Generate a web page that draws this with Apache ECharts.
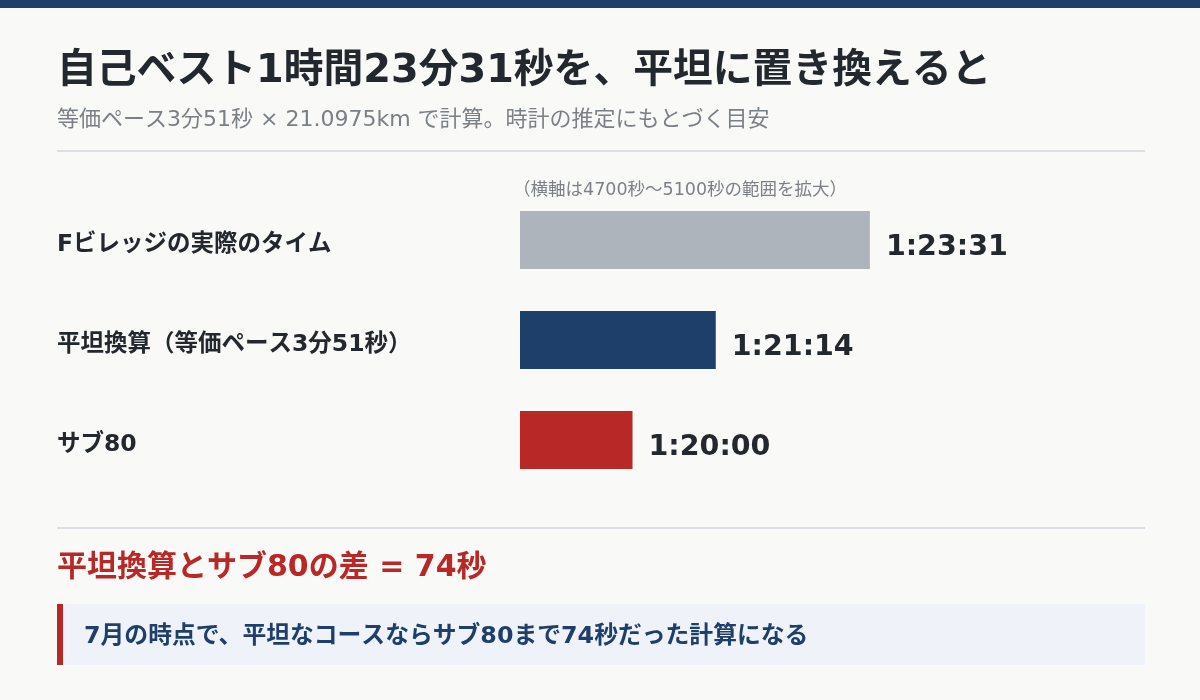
<!DOCTYPE html>
<html>
<head>
<meta charset="utf-8">
<script src="https://cdn.jsdelivr.net/npm/echarts@6/dist/echarts.min.js"></script>
<style>
html, body { margin: 0; padding: 0; background: #f9f9f7; }
#chart { width: 1200px; height: 700px; }
</style>
</head>
<body>
<div id="chart"></div>
<script>
var categories = ['Fビレッジの実際のタイム', '平坦換算（等価ペース3分51秒）', 'サブ80'];
var seconds = [5011, 4874, 4800];
var timeLabels = ['1:23:31', '1:21:14', '1:20:00'];
var barColors = ['#aeb4bc', '#1f3f6b', '#b72826'];
var axisMin = 4700;
var axisMax = 5100;

// latin glyphs from DejaVu (wide like the original), japanese from Noto CJK
var font = '"DejaVu Sans", "Noto Sans CJK JP", sans-serif';
var myChart = echarts.init(document.getElementById('chart'));

var barData = [];
for (var i = 0; i < seconds.length; i++) {
	barData.push({
		value: seconds[i],
		itemStyle: { color: barColors[i] },
		label: { formatter: timeLabels[i] }
	});
}

var option = {
	backgroundColor: '#f9f9f7',
	animation: false,
	grid: {
		left: 520,
		width: 450,
		top: 190,
		height: 300
	},
	xAxis: {
		type: 'value',
		min: axisMin,
		max: axisMax,
		show: false
	},
	yAxis: {
		type: 'category',
		inverse: true,
		data: categories,
		axisLine: { show: false },
		axisTick: { show: false },
		axisLabel: {
			align: 'left',
			margin: 463,
			formatter: function(v) {
				return '{c|' + v + '}';
			},
			rich: {
				c: {
					padding: [10, 0, 0, 0],
					color: '#23272e',
					fontSize: 23.5,
					fontWeight: 'bold',
					fontFamily: font
				}
			}
		}
	},
	series: [{
		type: 'bar',
		barWidth: 58,
		data: barData,
		label: {
			show: true,
			position: 'right',
			distance: 16,
			offset: [0, 8],
			color: '#23272e',
			fontSize: 28.5,
			fontWeight: 'bold',
			fontFamily: font
		}
	}],
	graphic: [
		{ type: 'rect', shape: { x: 0, y: 0, width: 1200, height: 8 }, style: { fill: '#1f3f6b' } },
		{
			type: 'text', x: 57, y: 72,
			style: {
				text: '自己ベスト1時間23分31秒を、平坦に置き換えると',
				fill: '#23272e', font: 'bold 39.8px ' + font, verticalAlign: 'middle'
			}
		},
		{
			type: 'text', x: 57, y: 120,
			style: {
				text: '等価ペース3分51秒 × 21.0975km で計算。時計の推定にもとづく目安',
				fill: '#7b7f86', font: '22px ' + font, verticalAlign: 'middle'
			}
		},
		{ type: 'rect', shape: { x: 57, y: 150, width: 1088, height: 2 }, style: { fill: '#dcdfe3' } },
		{
			type: 'text', x: 513, y: 190,
			style: {
				text: '（横軸は4700秒〜5100秒の範囲を拡大）',
				fill: '#7b7f86', font: '17.5px ' + font, verticalAlign: 'middle'
			}
		},
		{ type: 'rect', shape: { x: 57, y: 527, width: 1088, height: 2 }, style: { fill: '#dcdfe3' } },
		{
			type: 'text', x: 57, y: 568,
			style: {
				text: '平坦換算とサブ80の差 = 74秒',
				fill: '#b72826', font: 'bold 30px ' + font, verticalAlign: 'middle'
			}
		},
		{ type: 'rect', shape: { x: 57, y: 604, width: 1088, height: 61 }, style: { fill: '#eff3f9' } },
		{ type: 'rect', shape: { x: 57, y: 604, width: 6, height: 61 }, style: { fill: '#b72826' } },
		{
			type: 'text', x: 84, y: 637,
			style: {
				text: '7月の時点で、平坦なコースならサブ80まで74秒だった計算になる',
				fill: '#1f3f6b', font: 'bold 23.8px ' + font, verticalAlign: 'middle'
			}
		}
	]
};

myChart.setOption(option);
</script>
</body>
</html>
